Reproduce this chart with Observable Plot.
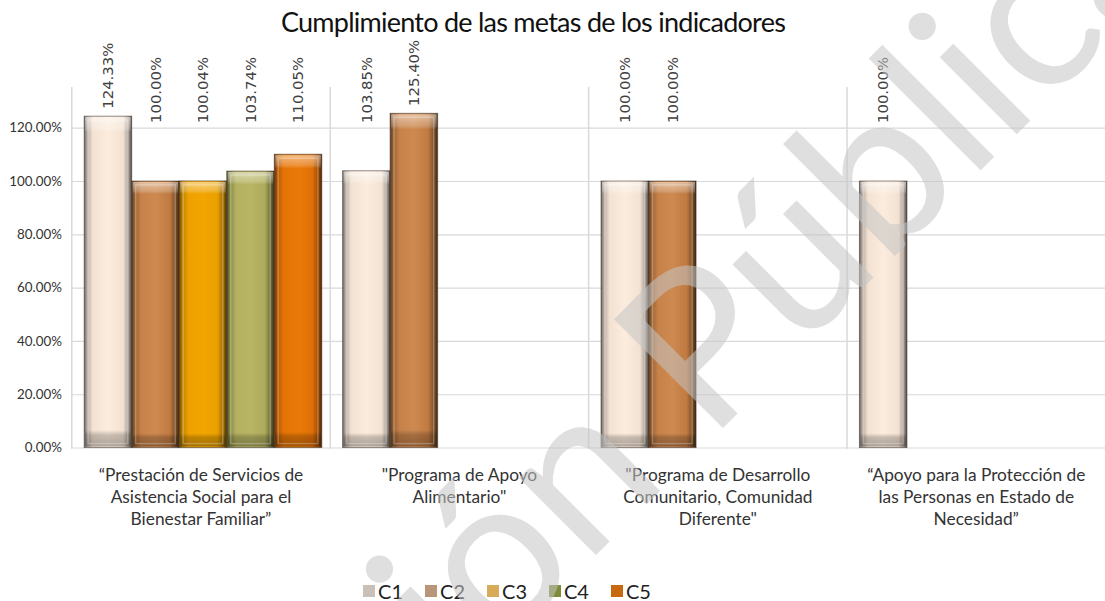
<!DOCTYPE html>
<html><head><meta charset="utf-8">
<script src="https://cdn.jsdelivr.net/npm/d3@7"></script>
<script src="https://cdn.jsdelivr.net/npm/@observablehq/plot@0.6"></script>
<style>
body{margin:0;background:#fff;overflow:hidden;font-family:Lato,sans-serif}
#wrap{position:relative;width:1105px;height:601px;overflow:hidden;background:#fff}
#chart{position:absolute;top:0;left:0}
#title{position:absolute;top:6px;left:0;width:1066px;text-align:center;font-size:27px;line-height:32px;letter-spacing:-0.75px;color:#111;font-family:Lato,sans-serif}
#legend{position:absolute;top:574px;left:0;width:1036px;display:flex;justify-content:center}
#legend svg{margin-right:3px !important}
#legend span{margin-right:22px !important}
#wm{position:absolute;top:0;left:0;pointer-events:none}
</style></head><body>
<svg width="0" height="0" style="position:absolute">
<defs>
<linearGradient id="gC1" x1="0" x2="1" y1="0" y2="0">
<stop offset="0" stop-color="#6e6660"/><stop offset="0.06" stop-color="#b5aaa2"/><stop offset="0.18" stop-color="#f3e2d2"/><stop offset="0.5" stop-color="#fcecde"/><stop offset="0.82" stop-color="#f3e2d2"/><stop offset="0.93" stop-color="#a99f97"/><stop offset="1" stop-color="#4f4843"/>
</linearGradient>
<linearGradient id="gC2" x1="0" x2="1" y1="0" y2="0">
<stop offset="0" stop-color="#5c3a1c"/><stop offset="0.07" stop-color="#9c6434"/><stop offset="0.2" stop-color="#c7814a"/><stop offset="0.5" stop-color="#cd8a50"/><stop offset="0.8" stop-color="#c07a42"/><stop offset="0.93" stop-color="#7a4d25"/><stop offset="1" stop-color="#3e2710"/>
</linearGradient>
<linearGradient id="gC3" x1="0" x2="1" y1="0" y2="0">
<stop offset="0" stop-color="#6e4a00"/><stop offset="0.07" stop-color="#c28300"/><stop offset="0.2" stop-color="#eea100"/><stop offset="0.5" stop-color="#f2a500"/><stop offset="0.8" stop-color="#eaa000"/><stop offset="0.93" stop-color="#a06a00"/><stop offset="1" stop-color="#4a3200"/>
</linearGradient>
<linearGradient id="gC4" x1="0" x2="1" y1="0" y2="0">
<stop offset="0" stop-color="#4a4a22"/><stop offset="0.07" stop-color="#8a8a45"/><stop offset="0.2" stop-color="#b3b160"/><stop offset="0.5" stop-color="#b8b665"/><stop offset="0.8" stop-color="#aeac5c"/><stop offset="0.93" stop-color="#6a6a34"/><stop offset="1" stop-color="#34341a"/>
</linearGradient>
<linearGradient id="gC5" x1="0" x2="1" y1="0" y2="0">
<stop offset="0" stop-color="#6a3000"/><stop offset="0.07" stop-color="#b85a05"/><stop offset="0.2" stop-color="#e57406"/><stop offset="0.5" stop-color="#ea7a08"/><stop offset="0.8" stop-color="#e07006"/><stop offset="0.93" stop-color="#9a4a03"/><stop offset="1" stop-color="#4a2200"/>
</linearGradient>
<linearGradient id="shine" x1="0" x2="0" y1="0" y2="1">
<stop offset="0" stop-color="#ffffff" stop-opacity="0.5"/><stop offset="0.035" stop-color="#ffffff" stop-opacity="0.2"/><stop offset="0.045" stop-color="#ffffff" stop-opacity="0"/><stop offset="0.95" stop-color="#000000" stop-opacity="0"/><stop offset="0.965" stop-color="#000000" stop-opacity="0.2"/><stop offset="1" stop-color="#000000" stop-opacity="0.3"/>
</linearGradient>
</defs></svg>
<div id="wrap">
<div id="chart"></div>
<div id="title">Cumplimiento de las metas de los indicadores</div>
<div id="legend"></div>
<svg id="wm" width="1105" height="601"><text x="0" y="0" transform="translate(680,471) rotate(-45)" text-anchor="middle" font-family="Lato, sans-serif" font-size="215" fill="#c4c4c4" fill-opacity="0.55">Versión Pública</text></svg>
</div>
<script>
// ---- data ----
const programs = [
  "“Prestación de Servicios de\nAsistencia Social para el\nBienestar Familiar”",
  "\"Programa de Apoyo\nAlimentario\"",
  "\"Programa de Desarrollo\nComunitario, Comunidad\nDiferente\"",
  "“Apoyo para la Protección de\nlas Personas en Estado de\nNecesidad”"
];
const components = ["C1", "C2", "C3", "C4", "C5"];
const c1 = [1.2433, 1.0385, 1.0000, 1.0000];
const c2 = [1.0000, 1.2540, 1.0000, null];
const c3 = [1.0004, null, null, null];
const c4 = [1.0374, null, null, null];
const c5 = [1.1005, null, null, null];
const yTicks = [0, 0.2, 0.4, 0.6, 0.8, 1.0, 1.2];
const fills = ["url(#gC1)", "url(#gC2)", "url(#gC3)", "url(#gC4)", "url(#gC5)"];
const legendSwatches = ["#c9c0b8", "#b9957a", "#d8ab58", "#7d8c3a", "#c8680f"];

const series = [c1, c2, c3, c4, c5];
const rows = [];
programs.forEach((p, i) => {
  series.forEach((s, j) => {
    if (s[i] != null) rows.push({program: p, comp: components[j], value: s[i]});
  });
});

const pct = d => (d * 100).toFixed(2) + "%";

const chart = Plot.plot({
  width: 1116,
  height: 560,
  marginLeft: 72,
  marginRight: 0,
  marginTop: 88,
  marginBottom: 108,
  style: {fontFamily: "Lato, sans-serif", color: "#404040", background: "transparent", overflow: "visible"},
  fx: {domain: programs, paddingInner: 0, paddingOuter: 0, label: null},
  x: {domain: components, paddingInner: 0, paddingOuter: 0.202, align: 0.615, axis: null},
  y: {domain: [0, 1.3523], label: null},
  color: {domain: components, range: fills},
  marks: [
    Plot.gridY(yTicks, {stroke: "#d9d9d9", strokeOpacity: 1, strokeWidth: 1.2}),
    Plot.frame({anchor: "left", stroke: "#d9d9d9", strokeWidth: 1.5}),
    Plot.axisY(yTicks, {tickFormat: pct, tickSize: 0, tickPadding: 10, fontSize: 13.5, label: null, fill: "#333"}),
    Plot.axisFx({anchor: "bottom", tickSize: 0, tickPadding: 18, fontSize: 17.5, lineHeight: 1.26, label: null, fill: "#333"}),
    Plot.barY(rows, {fx: "program", x: "comp", y: "value", fill: "comp", stroke: "#3a3028", strokeOpacity: 0.55, strokeWidth: 1}),
    Plot.barY(rows, {fx: "program", x: "comp", y: "value", fill: "url(#shine)", inset: 1}),
    Plot.barY(rows, {fx: "program", x: "comp", y: "value", fill: "none", stroke: "#ffffff", strokeOpacity: 0.25, strokeWidth: 1.5, inset: 4}),
    Plot.text(rows, {fx: "program", x: "comp", y: d => Math.max(d.value, 1.19), text: d => pct(d.value), rotate: -90, textAnchor: "start", dy: -8, fontSize: 15, fontFamily: "DejaVu Sans", fill: "#404040"})
  ]
});
document.getElementById("chart").appendChild(chart);

const legend = Plot.legend({
  color: {type: "ordinal", domain: components, range: legendSwatches},
  swatchSize: 12,
  style: {fontSize: "20px", fontFamily: "Lato, sans-serif", color: "#222"}
});
document.getElementById("legend").appendChild(legend);
</script>
</body></html>
